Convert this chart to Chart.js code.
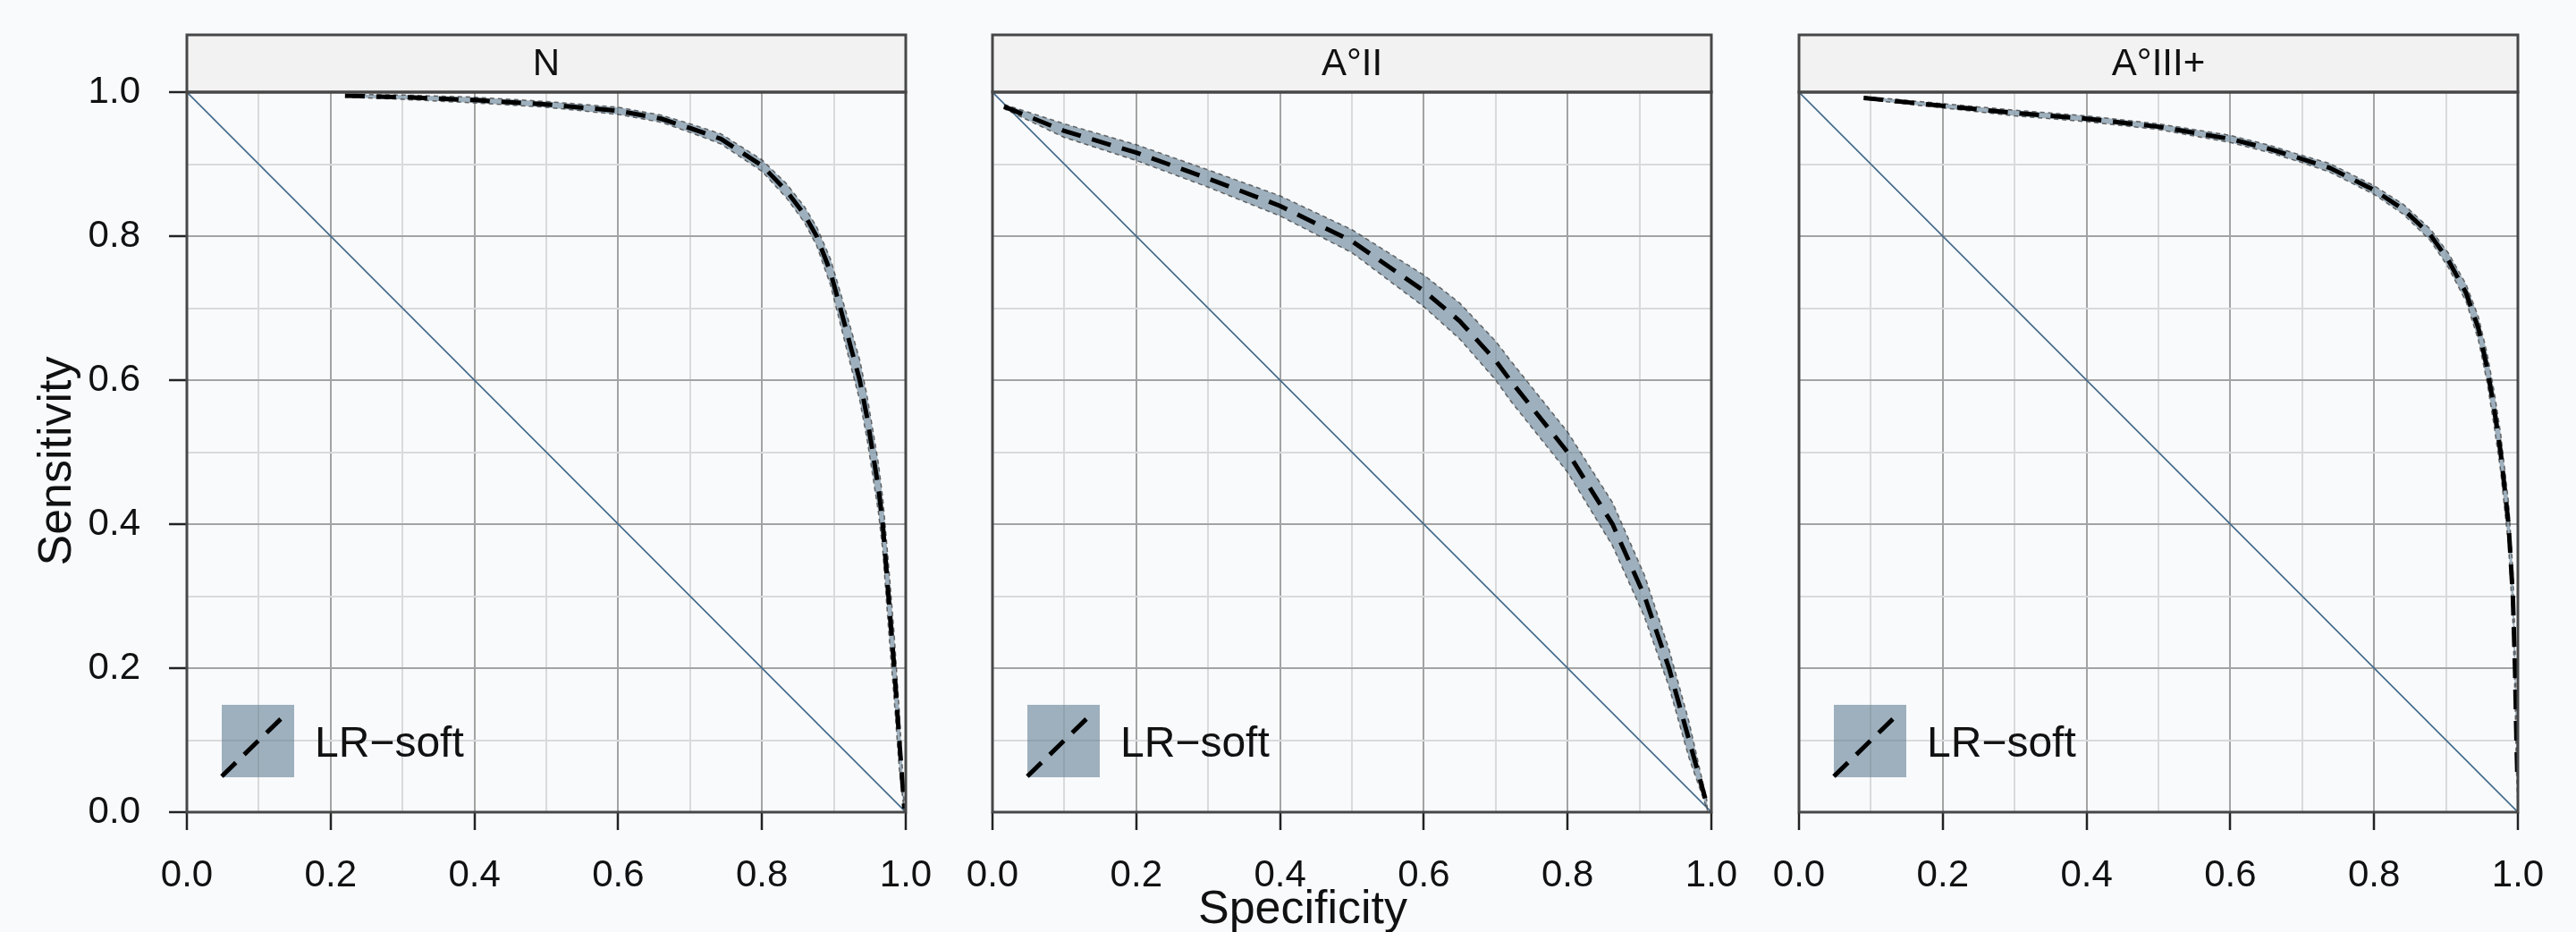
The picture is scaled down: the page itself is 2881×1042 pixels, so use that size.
<!DOCTYPE html>
<html lang="en">
<head>
<meta charset="UTF-8">
<title>ROC curves by stage</title>
<script src="https://cdn.jsdelivr.net/npm/chart.js@4.4.0/dist/chart.umd.min.js"></script>
<style>
    html, body { margin: 0; padding: 0; background: #F9FAFC; }
    #wrap { position: relative; width: 2881px; height: 1042px; overflow: hidden; }
    #wrap canvas { position: absolute; top: 0; }
</style>
</head>
<body>
<div id="wrap">
    <canvas id="pN" width="1083" height="1042" style="left:0px"></canvas>
    <canvas id="pII" width="944" height="1042" style="left:1040px"></canvas>
    <canvas id="pIII" width="944" height="1042" style="left:1942px"></canvas>
</div>
<script>
// panel names, axis ticks
const panelNames = ['N', 'A°II', 'A°III+'];
const seriesLabel = 'LR\u2212soft';
const gridVals = [0, 0.1, 0.2, 0.3, 0.4, 0.5, 0.6, 0.7, 0.8, 0.9, 1];
const majorTicks = [0, 0.2, 0.4, 0.6, 0.8, 1];
const diagSpec = [0, 1];
const diagSens = [1, 0];

// N
const nSpec = [0.22, 0.30, 0.40, 0.50, 0.60, 0.66, 0.70, 0.743, 0.80, 0.834, 0.859, 0.876, 0.895, 0.909, 0.924, 0.936, 0.946, 0.954, 0.962, 0.968, 0.976, 0.984, 0.991, 0.998];
const nSens = [0.995, 0.993, 0.989, 0.983, 0.974, 0.963, 0.950, 0.935, 0.898, 0.863, 0.830, 0.800, 0.751, 0.700, 0.644, 0.600, 0.549, 0.500, 0.450, 0.400, 0.300, 0.200, 0.100, 0.005];
const nHi   = [0.997, 0.996, 0.993, 0.987, 0.979, 0.968, 0.956, 0.942, 0.906, 0.873, 0.841, 0.813, 0.769, 0.722, 0.670, 0.628, 0.579, 0.532, 0.484, 0.436, 0.345, 0.245, 0.140, 0.010];
const nLo   = [0.993, 0.990, 0.985, 0.979, 0.969, 0.958, 0.944, 0.928, 0.890, 0.853, 0.819, 0.787, 0.733, 0.678, 0.618, 0.572, 0.519, 0.468, 0.416, 0.364, 0.255, 0.155, 0.060, 0.000];

// A°II
const aSpec = [0.016, 0.10, 0.20, 0.30, 0.40, 0.50, 0.60, 0.65, 0.70, 0.72, 0.80, 0.8625, 0.907, 0.9414, 0.969, 0.994];
const aSens = [0.980, 0.946, 0.916, 0.880, 0.842, 0.793, 0.724, 0.682, 0.627, 0.600, 0.500, 0.400, 0.300, 0.199, 0.100, 0.010];
const aHi   = [0.983, 0.956, 0.927, 0.892, 0.856, 0.809, 0.746, 0.707, 0.654, 0.628, 0.528, 0.430, 0.329, 0.225, 0.125, 0.015];
const aLo   = [0.977, 0.937, 0.905, 0.868, 0.828, 0.777, 0.702, 0.657, 0.600, 0.572, 0.472, 0.370, 0.271, 0.173, 0.075, 0.004];

// A°III+
const cSpec = [0.09, 0.20, 0.30, 0.40, 0.50, 0.60, 0.655, 0.70, 0.738, 0.80, 0.841, 0.878, 0.903, 0.928, 0.945, 0.957, 0.967, 0.976, 0.987, 0.993, 0.996, 0.998, 0.9995];
const cSens = [0.992, 0.981, 0.971, 0.963, 0.952, 0.935, 0.921, 0.907, 0.895, 0.864, 0.837, 0.802, 0.767, 0.721, 0.672, 0.618, 0.560, 0.500, 0.400, 0.300, 0.200, 0.100, 0.040];
const cHi   = [0.994, 0.984, 0.975, 0.967, 0.956, 0.940, 0.926, 0.912, 0.901, 0.870, 0.844, 0.810, 0.777, 0.733, 0.688, 0.638, 0.584, 0.526, 0.430, 0.335, 0.240, 0.140, 0.060];
const cLo   = [0.990, 0.978, 0.967, 0.959, 0.948, 0.930, 0.916, 0.902, 0.889, 0.858, 0.830, 0.794, 0.757, 0.709, 0.656, 0.598, 0.536, 0.474, 0.370, 0.265, 0.160, 0.060, 0.020];

const FONT = '"Liberation Sans", Arial, Helvetica, sans-serif';
Chart.defaults.font.family = FONT;
Chart.defaults.color = '#111';

const isMajor = v => majorTicks.some(m => Math.abs(m - v) < 1e-9);
const pts = (xs, ys) => xs.map((x, i) => ({ x: x, y: ys[i] }));

// strip, panel frame, in-panel legend key, axis titles (placed like the ggplot original)
const facetDecor = {
    id: 'facetDecor',
    afterDraw(chart, args, opts) {
        const { ctx, chartArea: a } = chart;
        const w = a.right - a.left;
        const h = a.bottom - a.top;
        ctx.save();
        // strip
        const sh = 64;
        ctx.fillStyle = '#F2F2F2';
        ctx.fillRect(a.left, a.top - sh, w, sh);
        ctx.strokeStyle = '#474747';
        ctx.lineWidth = 3;
        ctx.strokeRect(a.left, a.top - sh, w, sh);
        ctx.strokeRect(a.left, a.top, w, h);
        ctx.fillStyle = '#111';
        ctx.font = '42px ' + FONT;
        ctx.textAlign = 'center';
        ctx.textBaseline = 'middle';
        ctx.fillText(opts.strip, a.left + w / 2, a.top - sh / 2 + 1);

        // legend key
        const line = chart.data.datasets[0];
        const band = chart.data.datasets[1];
        const k = 81, kx = a.left + 39, ky = a.bottom - 39 - k;
        ctx.fillStyle = band.backgroundColor;
        ctx.fillRect(kx, ky, k, k);
        ctx.beginPath();
        ctx.setLineDash(line.borderDash);
        ctx.lineWidth = 5;
        ctx.strokeStyle = line.borderColor;
        ctx.moveTo(kx, ky + k - 1);
        ctx.lineTo(kx + 74, ky + 8);
        ctx.stroke();
        ctx.setLineDash([]);
        ctx.fillStyle = '#111';
        ctx.font = '48px ' + FONT;
        ctx.textAlign = 'left';
        ctx.textBaseline = 'alphabetic';
        ctx.fillText(line.label, kx + k + 23, ky + 58);

        ctx.font = '52px ' + FONT;
        ctx.textAlign = 'center';
        if (opts.xTitle) {
            ctx.fillText(opts.xTitle, a.left + w / 2 - 55, a.bottom + 124);
        }
        if (opts.yTitle) {
            ctx.translate(a.left - 130, a.top + h / 2 + 10);
            ctx.rotate(-Math.PI / 2);
            ctx.fillText(opts.yTitle, 0, 0);
        }
        ctx.restore();
    }
};

function makePanel(id, name, spec, sens, hi, lo, cfg) {
    const band = pts(spec, hi).concat(pts(spec, lo).reverse());
    const gridColor = c => (c.tick && isMajor(c.tick.value)) ? '#A3A3A3' : '#DADADA';
    const tickColor = c => (c.tick && isMajor(c.tick.value)) ? '#222' : 'rgba(0,0,0,0)';
    return new Chart(document.getElementById(id), {
        type: 'scatter',
        data: {
            datasets: [
                {
                    label: seriesLabel,
                    data: pts(spec, sens),
                    showLine: true,
                    borderColor: '#000',
                    borderWidth: 5,
                    borderDash: [22, 13],
                    pointRadius: 0,
                    tension: 0,
                    order: 0
                },
                {
                    label: 'band',
                    data: band,
                    showLine: true,
                    fill: 'shape',
                    backgroundColor: 'rgba(96,127,147,0.6)',
                    borderColor: 'rgba(60,60,60,0.75)',
                    borderWidth: 1.5,
                    borderDash: [5, 4],
                    pointRadius: 0,
                    tension: 0,
                    order: 1
                },
                {
                    label: 'chance',
                    data: pts(diagSpec, diagSens),
                    showLine: true,
                    borderColor: '#41698A',
                    borderWidth: 1.6,
                    pointRadius: 0,
                    order: 2
                }
            ]
        },
        options: {
            responsive: false,
            devicePixelRatio: 1,
            animation: false,
            events: [],
            layout: { padding: { left: 0, right: cfg.padRight, top: 103, bottom: 0 } },
            scales: {
                x: {
                    type: 'linear', min: 0, max: 1,
                    afterBuildTicks: s => { s.ticks = gridVals.map(v => ({ value: v })); },
                    afterFit: s => { s.height = 134; },
                    border: { display: false },
                    grid: { color: gridColor, lineWidth: 2, tickLength: 20, tickWidth: 2.5, tickColor: tickColor },
                    ticks: {
                        autoSkip: false, maxRotation: 0, padding: 26,
                        font: { size: 42 }, color: '#111',
                        callback: v => isMajor(v) ? v.toFixed(1) : ''
                    }
                },
                y: {
                    type: 'linear', min: 0, max: 1,
                    afterBuildTicks: s => { s.ticks = gridVals.map(v => ({ value: v })); },
                    afterFit: s => { s.width = cfg.yWidth; },
                    border: { display: false },
                    grid: { color: gridColor, lineWidth: 2, drawTicks: cfg.yLabels, tickLength: 20, tickWidth: 2.5, tickColor: tickColor },
                    ticks: {
                        display: cfg.yLabels, autoSkip: false, padding: 32,
                        font: { size: 42 }, color: '#111',
                        callback: v => isMajor(v) ? v.toFixed(1) : ''
                    }
                }
            },
            plugins: {
                legend: { display: false },
                tooltip: { enabled: false },
                facetDecor: { strip: name, xTitle: cfg.xTitle || null, yTitle: cfg.yTitle || null }
            }
        },
        plugins: [facetDecor]
    });
}

makePanel('pN', panelNames[0], nSpec, nSens, nHi, nLo, { yWidth: 209, padRight: 70, yLabels: true, yTitle: 'Sensitivity' });
makePanel('pII', panelNames[1], aSpec, aSens, aHi, aLo, { yWidth: 70, padRight: 70, yLabels: false, xTitle: 'Specificity' });
makePanel('pIII', panelNames[2], cSpec, cSens, cHi, cLo, { yWidth: 70, padRight: 70, yLabels: false });
</script>
</body>
</html>
